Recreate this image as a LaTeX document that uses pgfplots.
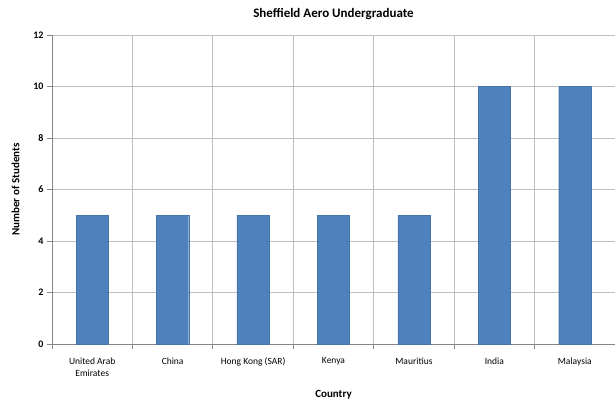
\documentclass[border=0pt]{standalone}
\usepackage{pgfplots}
\pgfplotsset{compat=1.18}
\usepackage{fontspec}
\setmainfont{Carlito}

\definecolor{barblue}{HTML}{4F81BD}
\definecolor{gridgray}{HTML}{BFBFBF}
\definecolor{axisgray}{HTML}{868686}

\begin{document}
\begin{tikzpicture}[x=1pt,y=1pt]
    \path[use as bounding box] (-52,-60) rectangle (563,344);
    \begin{axis}
        [
        at={(0,0)}, anchor=south west,
        scale only axis,
        width=563pt, height=309pt,
        title={\textbf{Sheffield Aero Undergraduate}},
        title style={font=\fontsize{13}{15}\selectfont, at={(0.5,1)}, yshift=6pt},
        ybar,
        bar width=0.4,
        xmin=-0.5, xmax=6.5,
        ymin=0, ymax=12,
        ytick={0,2,...,12},
        xtick={0,...,6},
        xticklabels={{United Arab\\Emirates},China,{Hong Kong (SAR)},Kenya,Mauritius,India,Malaysia},
        xticklabel style={align=center, font=\fontsize{9.5}{12}\selectfont, yshift=-5pt},
        yticklabel style={font=\fontsize{10}{12}\selectfont\bfseries},
        major x tick style={draw=none},
        minor xtick={-0.5,0.5,...,6.5},
        xminorgrids, ymajorgrids,
        minor grid style={gridgray, line width=0.8pt},
        major grid style={gridgray, line width=0.8pt},
        axis lines*=left,
        axis line style={axisgray, line width=0.8pt, -},
        tick style={axisgray, line width=0.8pt},
        tick align=outside,
        major tick length=5pt, minor tick length=5pt,
        xlabel={\textbf{Country}},
        ylabel={\textbf{Number of Students}},
        label style={font=\fontsize{11}{13}\selectfont},
        xlabel style={yshift=-7pt},
        ylabel style={yshift=7pt},
        /pgf/number format/assume math mode=true,
        ]
        \addplot[fill=barblue, draw=barblue!90!black] coordinates {(0,5) (1,5) (2,5) (3,5) (4,5) (5,10) (6,10)};
    \end{axis}
\end{tikzpicture}
\end{document}
